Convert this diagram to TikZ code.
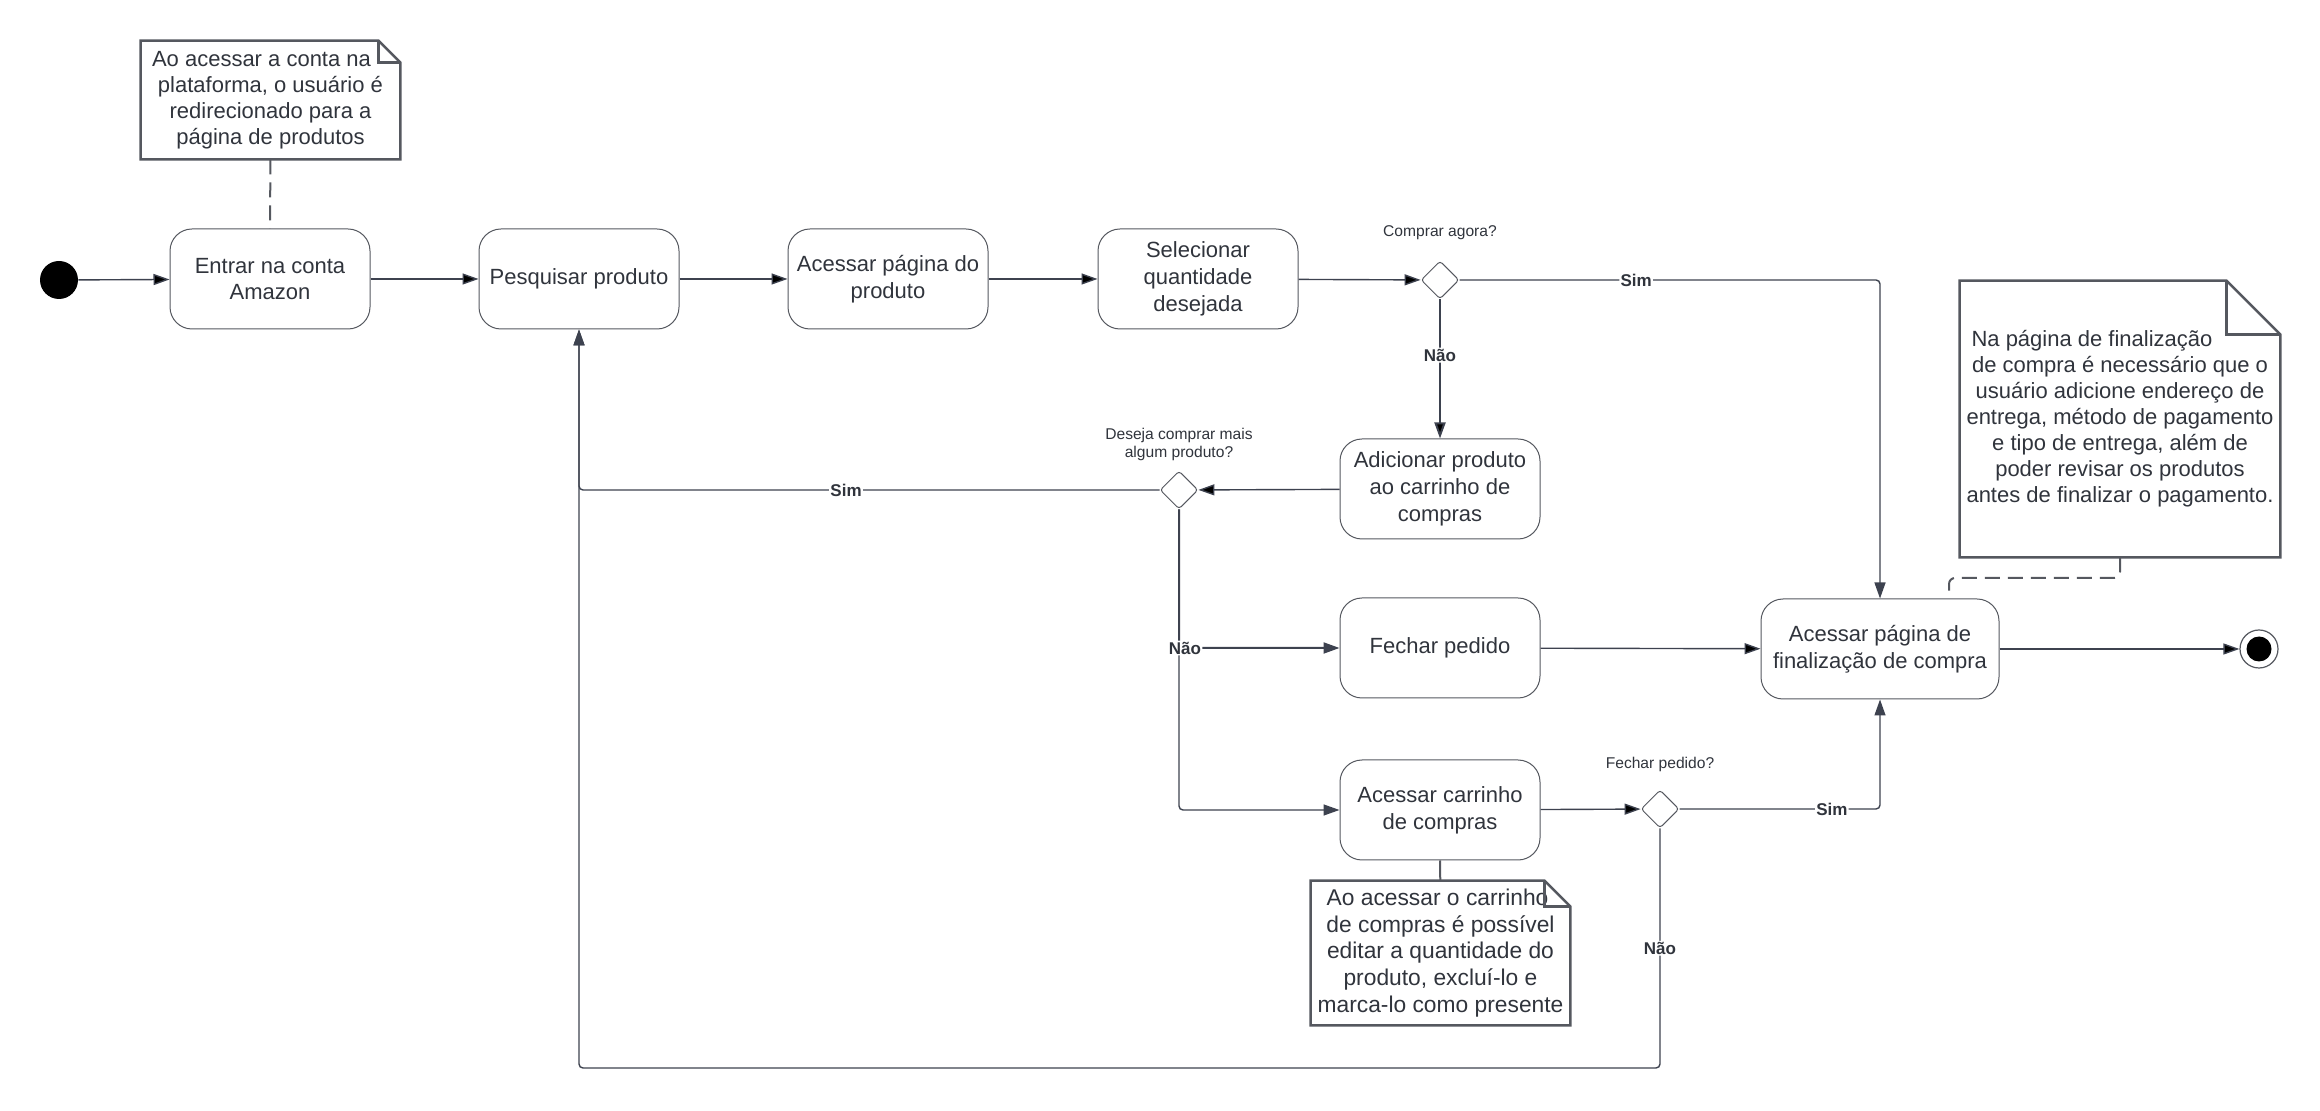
\documentclass[tikz,border=0pt]{standalone}
\usepackage{fontspec}
\setmainfont{Liberation Sans}
\usetikzlibrary{arrows.meta,shapes.geometric}
\definecolor{linecol}{HTML}{3D424F}
\definecolor{boxcol}{HTML}{55585F}
\definecolor{txtcol}{HTML}{30343C}
\newcommand{\dogear}[2]{%
	\draw[notecol] (#1.north west) -- ([xshift=-#2]#1.north east) -- ([yshift=-#2]#1.north east)
		-- (#1.south east) -- (#1.south west) -- cycle;
	\draw[notecol] ([xshift=-#2]#1.north east) |- ([yshift=-#2]#1.north east);}

\begin{document}
\begin{tikzpicture}[x=0.5pt,y=-0.5pt,
		actbox/.style={draw=boxcol,line width=0.5pt,rounded corners=11pt,minimum width=100pt,minimum height=50pt,align=center,text=txtcol,font=\fontsize{11}{13.4}\selectfont},
		choice/.style={draw=boxcol,line width=0.5pt,diamond,aspect=1,rounded corners=1.5pt,minimum width=19pt,minimum height=19pt,inner sep=0pt},
		notetext/.style={align=center,text=txtcol,font=\fontsize{11}{13}\selectfont,inner sep=0pt},
		notecol/.style={draw=boxcol,line width=1.25pt,line join=miter},
		asklabel/.style={text=txtcol,font=\fontsize{7.8}{9}\selectfont,align=center},
		guard/.style={fill=white,text=txtcol,font=\fontsize{8.5}{10}\selectfont\bfseries,inner sep=0.6pt},
		flow/.style={draw=linecol,line width=0.7pt,rounded corners=2pt,-{Triangle[length=8pt,width=5.5pt]}},
		notelink/.style={draw=boxcol,line width=1pt,dash pattern=on 7.5pt off 4pt,rounded corners=3pt},
	]
	\useasboundingbox (0,0) rectangle (2320,1111);

	\node[circle,fill=black,minimum size=19pt,inner sep=0pt] (start) at (59,280) {};
	\node[actbox] (enter) at (270,279) {Entrar na conta\\Amazon};
	\node[actbox] (search) at (579,279) {Pesquisar produto};
	\node[actbox] (page) at (888,279) {Acessar página do\\produto};
	\node[actbox] (qty) at (1198,279) {Selecionar\\quantidade\\desejada};
	\node[choice] (buynow) at (1440,280) {};
	\node[asklabel] (buynowq) at (1440,233) {Comprar agora?};
	\node[actbox] (addcart) at (1440,489) {Adicionar produto\\ao carrinho de\\compras};
	\node[choice] (more) at (1179,490) {};
	\node[asklabel] (moreq) at (1179,444) {Deseja comprar mais\\algum produto?};
	\node[actbox] (close) at (1440,648) {Fechar pedido};
	\node[actbox] (cart) at (1440,810) {Acessar carrinho\\de compras};
	\node[choice] (closeq) at (1660,809) {};
	\node[asklabel] (closeqq) at (1660,764) {Fechar pedido?};
	\node[actbox,minimum width=119pt] (checkout) at (1880,649) {Acessar página de\\finalização de compra};
	\node[circle,draw=boxcol,line width=0.6pt,minimum size=19pt,inner sep=0pt] (stop) at (2259,649) {};
	\node[circle,fill=black,minimum size=12.5pt,inner sep=0pt] (stopdot) at (stop) {};

	\node[notetext,minimum width=129.5pt,minimum height=59pt] (n1) at (270.5,100) {Ao acessar a conta na\hspace*{9pt}\\plataforma, o usuário é\\redirecionado para a\\página de produtos};
	\node[notetext,minimum width=160pt,minimum height=138pt] (n2) at (2120,419) {Na página de finalização\hspace*{28pt}\\de compra é necessário que o\\usuário adicione endereço de\\entrega, método de pagamento\\e tipo de entrega, além de\\poder revisar os produtos\\antes de finalizar o pagamento.};
	\node[notetext,font=\fontsize{11.4}{13.4}\selectfont,minimum width=129.5pt,minimum height=72pt] (n3) at (1440.5,953) {Ao acessar o carrinho\hspace*{3pt}\\de compras é possível\\editar a quantidade do\\produto, excluí-lo e\\marca-lo como presente};
	\dogear{n1}{11pt}
	\dogear{n2}{27pt}
	\dogear{n3}{13pt}

	\coordinate (loop) at (1660,1068);
	\coordinate (n2bend) at (1949,578);

	\path[flow]
		(start) edge (enter)
		(enter) edge (search)
		(search) edge (page)
		(page) edge (qty)
		(qty) edge (buynow)
		(buynow) edge[line width=1pt] node[guard,pos=0.4] {Não} (addcart)
		(addcart) edge (more)
		(close) edge (checkout)
		(checkout) edge (stop)
		(cart) edge (closeq);
	\draw[flow] (buynow) -| node[guard,pos=0.21] {Sim} (checkout);
	\draw[flow] (more) -| node[guard,pos=0.27] {Sim} (search);
	\draw[flow] (more) |- (cart);
	\draw[flow,line width=1pt] (more) |- node[guard,pos=0.5,xshift=3pt] {Não} (close);
	\draw[flow] (closeq) -| node[guard,pos=0.38] {Sim} (checkout);
	\draw[flow] (closeq) -- node[guard,pos=0.5] {Não} (loop) -| (search);

	\draw[notelink] (n1) -- (enter);
	\draw[notelink] (n2.south) |- (n2bend) -- (n2bend |- checkout.north);
	\draw[draw=boxcol,line width=1pt] (cart) -- (n3);
\end{tikzpicture}
\end{document}
